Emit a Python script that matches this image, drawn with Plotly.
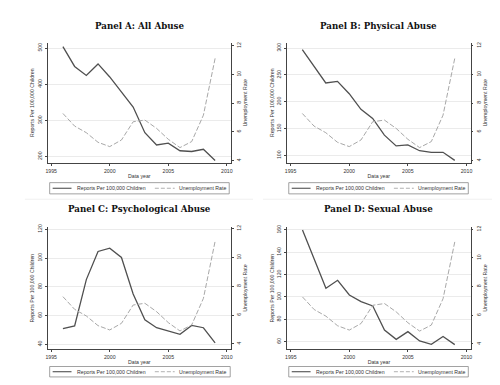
import plotly.graph_objects as go

years = [1996, 1997, 1998, 1999, 2000, 2001, 2002, 2003, 2004, 2005, 2006, 2007, 2008, 2009]
unemployment = [7.28, 6.40, 5.94, 5.27, 4.97, 5.43, 6.70, 6.82, 6.24, 5.48, 4.90, 5.32, 7.16, 11.12]

all_abuse = [504, 449, 424, 456, 420, 378, 337, 266, 232, 237, 216, 214, 220, 189]
physical_abuse = [297, 266, 235, 238, 215, 186, 169, 138, 118, 120, 109, 106, 106, 91]
psychological_abuse = [50.8, 52.7, 85, 104.6, 106.9, 100.4, 75, 57, 51.5, 49.2, 46.9, 53.1, 51.5, 40.9]
sexual_abuse = [160, 133.7, 107.8, 114.9, 101.8, 95.8, 91.9, 70.4, 62, 68.9, 60.6, 57.6, 64.5, 57.3]

panel_titles = ["Panel A: All Abuse", "Panel B: Physical Abuse",
                "Panel C: Psychological Abuse", "Panel D: Sexual Abuse"]
x_ticks = [1995, 2000, 2005, 2010]
left_ticks = [[200, 300, 400, 500], [100, 150, 200, 250, 300],
              [40, 60, 80, 100, 120], [60, 80, 100, 120, 140, 160]]
right_ticks = [4, 6, 8, 10, 12]
legend_labels = ["Reports Per 100,000 Children", "Unemployment Rate"]

series = [all_abuse, physical_abuse, psychological_abuse, sexual_abuse]

W, H = 500, 385
# pixel geometry of each panel: (left, right, top, bottom)
boxes = [(38, 222.7, 32, 153), (279.3, 464.3, 32, 153),
         (38, 222.7, 218, 340.5), (279.5, 464.3, 218, 340.5)]
left_ranges = [[182.7, 514.5], [86.5, 309.8], [36.8, 121.4], [53.5, 162.4]]
right_ranges = [[3.84, 12.21], [3.84, 12.21], [3.66, 12.09], [3.66, 12.14]]
title_pos = [(130.4, 15), (371.8, 15), (130.4, 199.5), (371.8, 199.3)]
# legend boxes: (left, right, top, bottom)
legend_boxes = [(40, 221, 173, 184.3), (281, 462, 173, 184.3),
                (40, 222, 358.3, 368.8), (281, 462, 358.3, 368.8)]

SANS = "Liberation Sans, Arial, sans-serif"
DARK = "#505050"
LIGHT = "#a8a8a8"
AX = "#444444"
TXT = "#333333"

fig = go.Figure()
layout = dict(width=W, height=H, autosize=False, margin=dict(l=0, r=0, t=0, b=0),
              paper_bgcolor="white", plot_bgcolor="white", showlegend=False,
              font=dict(family=SANS, size=5, color=TXT))
annotations = []
shapes = []


def px(x):
    return x / W


def py(y):
    return 1 - y / H


for i in range(4):
    l, r, t, b = boxes[i]
    xn = "" if i == 0 else str(i + 1)
    yl = str(2 * i + 1) if i > 0 else ""
    yr = str(2 * i + 2)
    fig.add_trace(go.Scatter(x=years, y=series[i], mode="lines",
                             name=legend_labels[0],
                             line=dict(color=DARK, width=1.3),
                             xaxis="x" + xn, yaxis="y" + yl))
    fig.add_trace(go.Scatter(x=years, y=unemployment, mode="lines",
                             name=legend_labels[1],
                             line=dict(color=LIGHT, width=1, dash="5px,2px"),
                             xaxis="x" + xn, yaxis="y" + yr))
    dom_x = [px(l), px(r)]
    dom_y = [py(b), py(t)]
    layout["xaxis" + xn] = dict(domain=dom_x, range=[1994.7, 2010.35], anchor="y" + yl,
                                tickvals=x_ticks, ticks="outside", ticklen=2, tickcolor=AX,
                                showline=True, linecolor=AX, linewidth=0.8, showgrid=False,
                                zeroline=False, tickfont=dict(size=5.2), ticklabelstandoff=1,
                                title=dict(text="Data year", font=dict(size=5.2), standoff=1))
    layout["yaxis" + yl] = dict(domain=dom_y, range=left_ranges[i], anchor="x" + xn,
                                tickvals=left_ticks[i], ticks="outside", ticklen=2, tickcolor=AX,
                                tickangle=-90, showline=True, linecolor=AX, linewidth=0.8,
                                showgrid=True, gridcolor="#ebebeb", gridwidth=0.8,
                                zeroline=False, tickfont=dict(size=5.2), ticklabelstandoff=1,
                                title=dict(text="Reports Per 100,000 Children",
                                           font=dict(size=5.2), standoff=1))
    layout["yaxis" + yr] = dict(domain=dom_y, range=right_ranges[i], anchor="x" + xn,
                                overlaying="y" + yl, side="right",
                                tickvals=right_ticks, ticks="outside", ticklen=2, tickcolor=AX,
                                tickangle=-90, showline=True, linecolor=AX, linewidth=0.8,
                                showgrid=False, zeroline=False, tickfont=dict(size=5.2),
                                ticklabelstandoff=1,
                                title=dict(text="Unemployment Rate", font=dict(size=5.2), standoff=1))
    tx, ty = title_pos[i]
    annotations.append(dict(text=panel_titles[i], x=px(tx), y=py(ty), xref="paper",
                            yref="paper", showarrow=False, xanchor="center", yanchor="middle",
                            font=dict(family="DejaVu Serif, serif", size=8.7, color="#111111",
                                      weight="bold")))
    # legend (drawn as a framed key)
    L, R, T, B = legend_boxes[i]
    cy = (T + B) / 2
    shapes.append(dict(type="rect", xref="paper", yref="paper", x0=px(L), x1=px(R),
                       y0=py(B), y1=py(T), line=dict(color="#8a8a8a", width=0.8),
                       fillcolor="white"))
    shapes.append(dict(type="line", xref="paper", yref="paper", x0=px(L + 3), x1=px(L + 22),
                       y0=py(cy), y1=py(cy), line=dict(color=DARK, width=1.1)))
    shapes.append(dict(type="line", xref="paper", yref="paper", x0=px(L + 106), x1=px(L + 126),
                       y0=py(cy), y1=py(cy), line=dict(color=LIGHT, width=0.9, dash="4px,2px")))
    for lx, lab in [(L + 25.5, legend_labels[0]), (L + 128.5, legend_labels[1])]:
        annotations.append(dict(text=lab, x=px(lx), y=py(cy), xref="paper", yref="paper",
                                showarrow=False, xanchor="left", yanchor="middle",
                                font=dict(size=5.2, color=TXT, family=SANS)))

for x0, x1 in [(15, 245), (255, 495)]:
    shapes.append(dict(type="line", xref="paper", yref="paper", x0=px(x0), x1=px(x1),
                       y0=py(189.7), y1=py(189.7),
                       line=dict(color="#f0f0f0", width=1)))

layout["annotations"] = annotations
layout["shapes"] = shapes
fig.update_layout(**layout)
fig.write_html("out.html")
